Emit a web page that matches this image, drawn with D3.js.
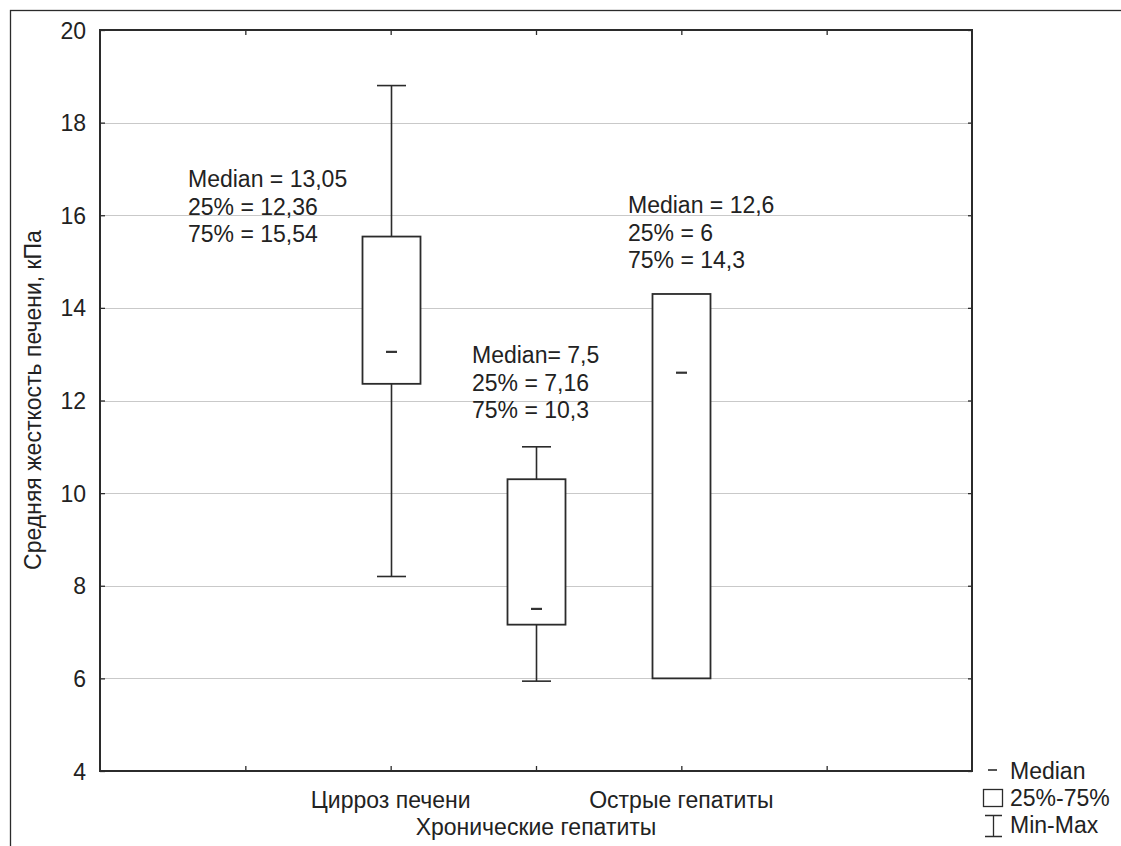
<!DOCTYPE html>
<html>
<head>
<meta charset="utf-8">
<script src="https://cdn.jsdelivr.net/npm/d3@7"></script>
<style>
  html, body { margin: 0; padding: 0; background: #fff; }
  svg { display: block; font-family: "Liberation Sans", Arial, sans-serif; }
</style>
</head>
<body>
<svg id="chart" width="1121" height="846"></svg>
<script>
// Liver stiffness by diagnosis group (kPa)
const groups  = ["Цирроз печени", "Хронические гепатиты", "Острые гепатиты"];
const mins    = [8.2, 5.94, 6];
const q1      = [12.36, 7.16, 6];
const medians = [13.05, 7.5, 12.6];
const q3      = [15.54, 10.3, 14.3];
const maxs    = [18.8, 11.0, 14.3];
const medianPrefix = ["Median = ", "Median= ", "Median = "];

const yTicks = [4, 6, 8, 10, 12, 14, 16, 18, 20];
const yTitle = "Средняя жесткость печени, кПа";
const legendItems = ["Median", "25%-75%", "Min-Max"];

const svg = d3.select("#chart");
const ink = "#2b2b2b";
const textInk = "#222";
const fontSize = "23px";
const plot = { left: 100, top: 30, right: 972, bottom: 771 };

// outer frame (extends past the page edge on the right and bottom)
svg.append("rect")
  .attr("x", 10.5).attr("y", 10.5)
  .attr("width", 1200).attr("height", 900)
  .attr("fill", "none").attr("stroke", ink).attr("stroke-width", 1.3);

// slots 0..6, groups sit on slots 2..4
const x = d3.scaleLinear().domain([0, 6]).range([plot.left, plot.right]);
const y = d3.scaleLinear().domain([4, 20]).range([plot.bottom, plot.top]);

// grid lines
svg.append("g").selectAll("line")
  .data(yTicks.filter(t => t > 4 && t < 20))
  .join("line")
  .attr("x1", plot.left).attr("x2", plot.right)
  .attr("y1", d => Math.round(y(d)) + 0.5).attr("y2", d => Math.round(y(d)) + 0.5)
  .attr("stroke", "#c9c9c9").attr("stroke-width", 1);

// axes with inward ticks
function styleAxis(g) {
  g.select(".domain").remove();
  g.selectAll(".tick line").attr("stroke", ink).attr("stroke-width", 1.3);
  g.selectAll(".tick text").attr("fill", textInk).style("font-size", fontSize);
}
svg.append("g")
  .attr("transform", `translate(${plot.left},0)`)
  .call(d3.axisLeft(y).tickValues(yTicks).tickSizeInner(-5).tickSizeOuter(0).tickPadding(14))
  .call(styleAxis)
  .call(g => g.selectAll(".tick text").attr("dy", "0.35em"));
svg.append("g")
  .attr("transform", `translate(${plot.right},0)`)
  .call(d3.axisRight(y).tickValues(yTicks).tickSizeInner(-4).tickSizeOuter(0).tickFormat(""))
  .call(styleAxis);
svg.append("g")
  .attr("transform", `translate(0,${plot.bottom})`)
  .call(d3.axisBottom(x).tickValues([1, 2, 3, 4, 5]).tickSizeInner(-5).tickSizeOuter(0).tickFormat(""))
  .call(styleAxis);
svg.append("g")
  .attr("transform", `translate(0,${plot.top})`)
  .call(d3.axisTop(x).tickValues([1, 2, 3, 4, 5]).tickSizeInner(-5).tickSizeOuter(0).tickFormat(""))
  .call(styleAxis);

// plot frame
svg.append("rect")
  .attr("x", plot.left).attr("y", plot.top)
  .attr("width", plot.right - plot.left).attr("height", plot.bottom - plot.top)
  .attr("fill", "none").attr("stroke", ink).attr("stroke-width", 2);

// category labels, alternating rows
svg.append("g").selectAll("text")
  .data(groups)
  .join("text")
  .attr("x", (d, i) => x(i + 2))
  .attr("y", (d, i) => i % 2 === 0 ? 808 : 835)
  .attr("text-anchor", "middle")
  .attr("fill", textInk)
  .style("font-size", fontSize)
  .text(d => d);

// y title
svg.append("text")
  .attr("transform", "translate(41,400) rotate(-90)")
  .attr("text-anchor", "middle")
  .attr("fill", textInk)
  .style("font-size", fontSize)
  .text(yTitle);

// box plots
const boxW = 58, capW = 29, medW = 11;
const boxes = svg.append("g");
groups.forEach((g, i) => {
  const cx = Math.round(x(i + 2)) + 0.5;
  const grp = boxes.append("g");
  // whiskers
  if (maxs[i] > q3[i]) {
    grp.append("line").attr("x1", cx).attr("x2", cx).attr("y1", y(maxs[i])).attr("y2", y(q3[i]));
    grp.append("line").attr("x1", cx - capW / 2).attr("x2", cx + capW / 2).attr("y1", y(maxs[i])).attr("y2", y(maxs[i]));
  }
  if (mins[i] < q1[i]) {
    grp.append("line").attr("x1", cx).attr("x2", cx).attr("y1", y(q1[i])).attr("y2", y(mins[i]));
    grp.append("line").attr("x1", cx - capW / 2).attr("x2", cx + capW / 2).attr("y1", y(mins[i])).attr("y2", y(mins[i]));
  }
  grp.selectAll("line").attr("stroke", ink).attr("stroke-width", 1.6);
  // box
  grp.append("rect")
    .attr("x", cx - boxW / 2).attr("y", y(q3[i]))
    .attr("width", boxW).attr("height", y(q1[i]) - y(q3[i]))
    .attr("fill", "#fff").attr("stroke", ink).attr("stroke-width", 1.8);
  // median
  grp.append("line")
    .attr("x1", cx - medW / 2).attr("x2", cx + medW / 2)
    .attr("y1", y(medians[i])).attr("y2", y(medians[i]))
    .attr("stroke", "#333").attr("stroke-width", 2.2);
});

// value notes
const fmt = v => String(v).replace(".", ",");
const noteAnchor = [{ x: 188, y: 187 }, { x: 472, y: 363 }, { x: 628, y: 213 }];
const notes = svg.append("g").attr("fill", textInk).style("font-size", fontSize);
groups.forEach((g, i) => {
  const lines = [
    medianPrefix[i] + fmt(medians[i]),
    "25% = " + fmt(q1[i]),
    "75% = " + fmt(q3[i])
  ];
  const t = notes.append("text").attr("x", noteAnchor[i].x).attr("y", noteAnchor[i].y);
  lines.forEach((l, k) => {
    t.append("tspan").attr("x", noteAnchor[i].x).attr("dy", k === 0 ? 0 : 27.5).text(l);
  });
});

// legend
const lg = svg.append("g").attr("fill", textInk).style("font-size", fontSize);
lg.append("line").attr("x1", 988).attr("x2", 997).attr("y1", 770).attr("y2", 770)
  .attr("stroke", "#555").attr("stroke-width", 2);
lg.append("rect").attr("x", 983.5).attr("y", 789.5).attr("width", 19).attr("height", 17)
  .attr("fill", "none").attr("stroke", ink).attr("stroke-width", 1.3);
lg.append("path").attr("d", "M985,815.5H1002M993.5,815.5V836.5M985,836.5H1002")
  .attr("fill", "none").attr("stroke", ink).attr("stroke-width", 1.3);
legendItems.forEach((s, k) => {
  lg.append("text").attr("x", 1010).attr("y", 779 + k * 27).text(s);
});
</script>
</body>
</html>
